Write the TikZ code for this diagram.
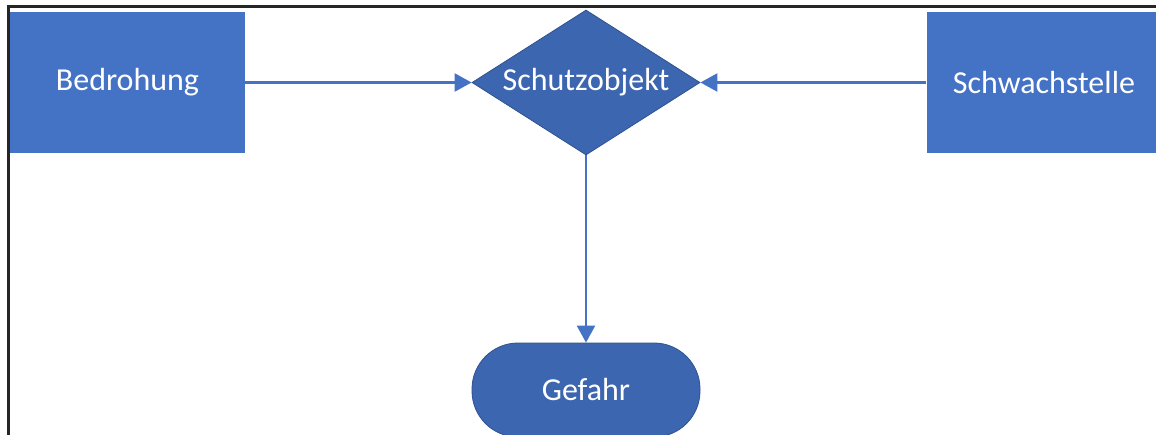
\documentclass[tikz,border=0pt]{standalone}
\usepackage{fontspec}
\setmainfont{Carlito}
\usetikzlibrary{shapes.geometric,arrows.meta}
\definecolor{boxblue}{HTML}{4472C4}
\definecolor{darkblue}{HTML}{3D66B0}
\definecolor{edgeblue}{HTML}{2F528F}
\tikzset{
  lbl/.style={text=white,font=\fontsize{32}{36}\selectfont,inner sep=0pt},
  rectbox/.style={lbl,rectangle,fill=boxblue,minimum width=235pt,minimum height=141pt},
  decbox/.style={lbl,diamond,shape aspect=1.57,fill=darkblue,draw=edgeblue,line width=0.8pt,minimum width=228pt,minimum height=145pt},
  termbox/.style={lbl,rectangle,rounded corners=46pt,fill=darkblue,draw=edgeblue,line width=0.8pt,minimum width=228pt,minimum height=94pt},
  conn/.style={draw=boxblue,line width=2.4pt,-{Triangle[length=17pt,width=18pt]}},
  frame/.style={draw=black!85,line width=3pt}
}
\begin{document}
\begin{tikzpicture}[x=1pt,y=-1pt]
\useasboundingbox (0,0) rectangle (1156,434);
\clip (0,0) rectangle (1156,434);
\fill[white] (0,0) rectangle (1156,434);
\coordinate (fl) at (8,440);
\coordinate (fc) at (8,6);
\coordinate (fr) at (1160,6);
\draw[frame] (fl) -- (fc) -- (fr);
\node[rectbox] (bed) at (127.5,82.5) {Bedrohung};
\node[rectbox] (sch) at (1044,82.5) {Schwachstelle};
\node[decbox] (obj) at (586,82.5) {Schutzobjekt};
\node[termbox] (gef) at (586,390) {Gefahr};
\draw[conn] (bed.east) -- (obj.west);
\draw[conn] (sch.west) -- (obj.east);
\draw[conn] (obj.south) -- (gef.north);
\end{tikzpicture}
\end{document}
